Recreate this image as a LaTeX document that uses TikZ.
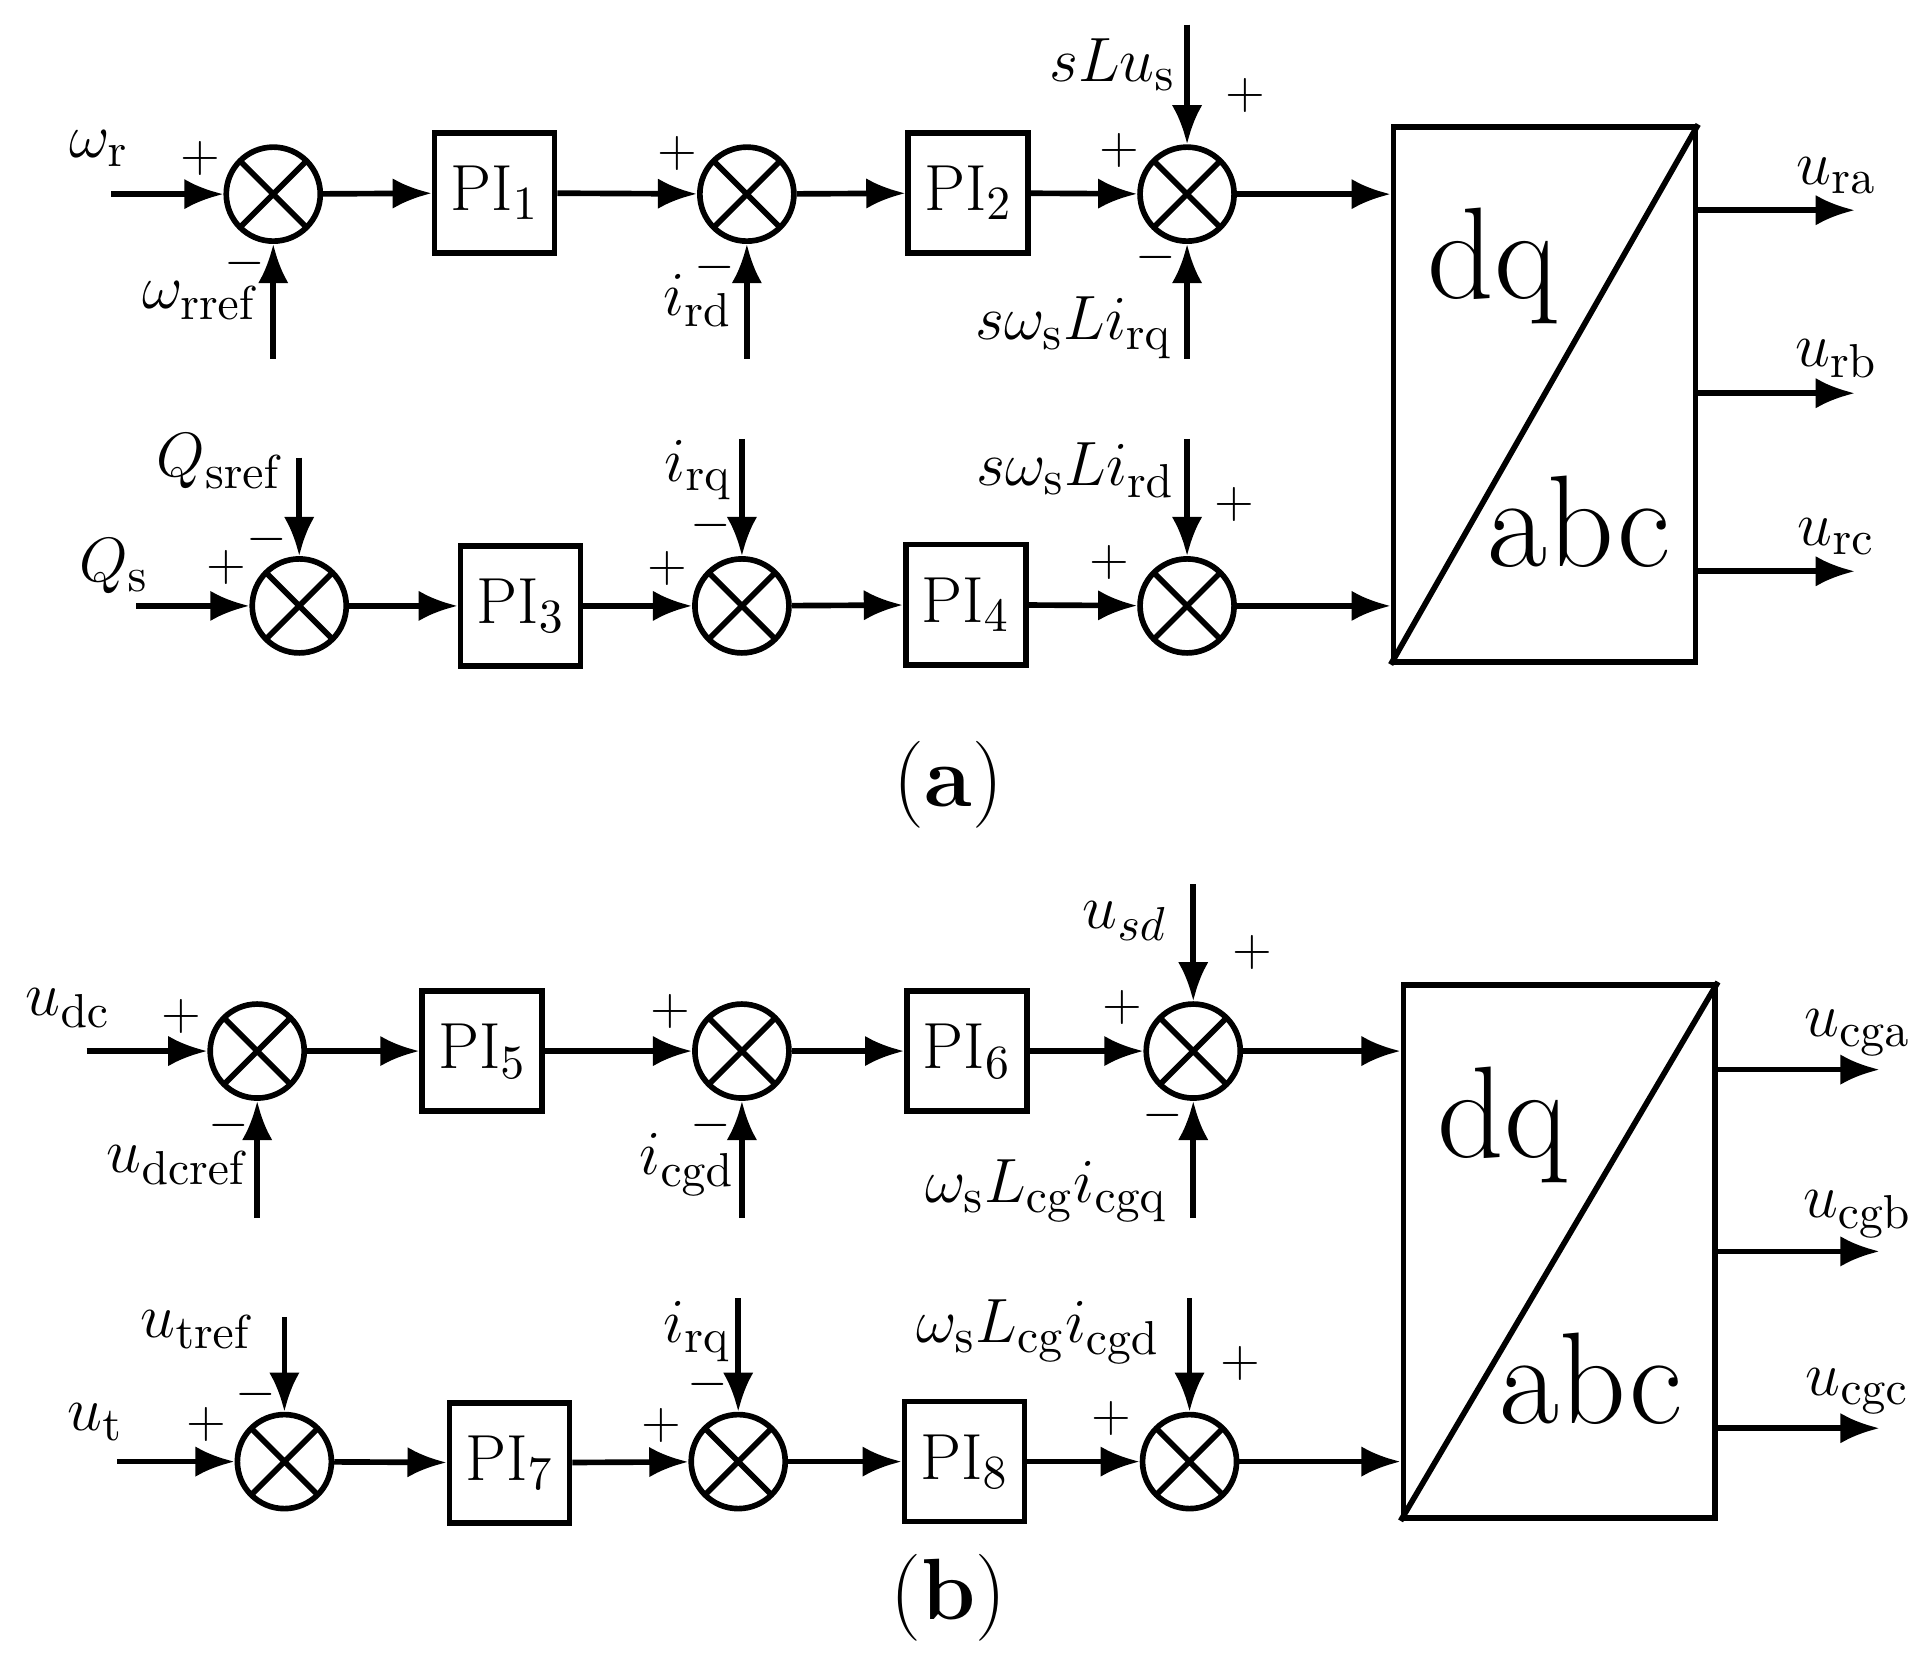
\documentclass[tikz,border=0pt]{standalone}
\usetikzlibrary{arrows.meta}
\begin{document}
\begin{tikzpicture}[x=0.01cm,y=-0.01cm,line width=1.3pt,
 >={Latex[length=9pt,width=7pt]},
 sum/.style={circle,draw,minimum size=0.76cm,inner sep=0pt,path picture={
   \draw (path picture bounding box.north west)--(path picture bounding box.south east)
         (path picture bounding box.north east)--(path picture bounding box.south west);}},
 pi/.style={draw,minimum width=0.97cm,minimum height=0.97cm,inner sep=0pt,font=\fontsize{15}{18}\selectfont},
 lbl/.style={font=\fontsize{15}{18}\selectfont,inner sep=0pt},
 rl/.style={lbl,anchor=east},
 sg/.style={font=\fontsize{13}{16}\selectfont,inner sep=0pt},
 big/.style={font=\fontsize{30}{34}\selectfont}]
\useasboundingbox (0,0) rectangle (1560,1345);
% ---------- (a) ----------
\node[sum] (s1) at (221,157) {};
\node[pi] (p1) at (400,156) {PI$_1$};
\node[sum] (s2) at (604,157) {};
\node[pi] (p2) at (783,156) {PI$_2$};
\node[sum] (s3) at (960,157) {};
\node[draw,minimum width=2.44cm,minimum height=4.32cm,inner sep=0pt] (b1) at (1249,319) {};
\draw (b1.south west)--(b1.north east);
\node[big] (dq1) at (1207,215) {dq};
\node[big] (abc1) at (1277,422) {abc};
\coordinate (i1) at (90,157); \coordinate (i1b) at (221,290);
\coordinate (i2b) at (604,290); \coordinate (i3t) at (960,20); \coordinate (i3b) at (960,290);
\draw[->] (i1)--(s1); \draw[->] (i1b)--(s1); \draw[->] (s1)--(p1); \draw[->] (p1)--(s2);
\draw[->] (i2b)--(s2); \draw[->] (s2)--(p2); \draw[->] (p2)--(s3);
\draw[->] (i3t)--(s3); \draw[->] (i3b)--(s3); \draw[->] (s3)--(b1.west|-s3);
\node[sum] (s4) at (242,490) {};
\node[pi] (p3) at (421,490) {PI$_3$};
\node[sum] (s5) at (600,490) {};
\node[pi] (p4) at (781,489) {PI$_4$};
\node[sum] (s6) at (960,490) {};
\coordinate (i4) at (110,490); \coordinate (i4t) at (242,370);
\coordinate (i5t) at (600,355); \coordinate (i6t) at (960,355);
\draw[->] (i4)--(s4); \draw[->] (i4t)--(s4); \draw[->] (s4)--(p3); \draw[->] (p3)--(s5);
\draw[->] (i5t)--(s5); \draw[->] (s5)--(p4); \draw[->] (p4)--(s6); \draw[->] (i6t)--(s6);
\draw[->] (s6)--(b1.west|-s6);
\foreach \y/\n/\t in {170/oa/ra,318/ob/rb,462/oc/rc}{
 \coordinate (\n) at (1500,\y); \draw[->] (b1.east|-\n)--(\n);
 \node[lbl] at (1485,\y-28) {$u_{\mathrm{\t}}$};}
\node[lbl] at (80,120) {$\omega_{\mathrm{r}}$};
\node[rl] at (212,243) {$\omega_{\mathrm{rref}}$};
\node[rl] at (594,243) {$i_{\mathrm{rd}}$};
\node[rl] at (953,52) {$sLu_{\mathrm{s}}$};
\node[rl] at (950,265) {$s\omega_{\mathrm{s}}Li_{\mathrm{rq}}$};
\node[rl] at (232,373) {$Q_{\mathrm{sref}}$};
\node[lbl] at (92,458) {$Q_{\mathrm{s}}$};
\node[rl] at (594,380) {$i_{\mathrm{rq}}$};
\node[rl] at (952,380) {$s\omega_{\mathrm{s}}Li_{\mathrm{rd}}$};
\foreach \p in {(162,128),(548,124),(905,122),(1007,77),(183,459),(540,460),(897,455),(998,408)} \node[sg] at \p {$+$};
\foreach \p in {(198,213),(578,216),(935,208),(216,436),(575,425)} \node[sg] at \p {$-$};
\node[font=\fontsize{20}{24}\selectfont] at (767,635) {(\textbf{a})};
% ---------- (b) ----------
\node[sum] (s7) at (208,850) {};
\node[pi] (p5) at (390,850) {PI$_5$};
\node[sum] (s8) at (600,850) {};
\node[pi] (p6) at (782,850) {PI$_6$};
\node[sum] (s9) at (965,850) {};
\node[draw,minimum width=2.52cm,minimum height=4.31cm,inner sep=0pt] (b2) at (1261,1012) {};
\draw (b2.south west)--(b2.north east);
\node[big] (dq2) at (1215,910) {dq};
\node[big] (abc2) at (1287,1115) {abc};
\coordinate (i7) at (70,850); \coordinate (i7b) at (208,985);
\coordinate (i8b) at (600,985); \coordinate (i9t) at (965,715); \coordinate (i9b) at (965,985);
\draw[->] (i7)--(s7); \draw[->] (i7b)--(s7); \draw[->] (s7)--(p5); \draw[->] (p5)--(s8);
\draw[->] (i8b)--(s8); \draw[->] (s8)--(p6); \draw[->] (p6)--(s9);
\draw[->] (i9t)--(s9); \draw[->] (i9b)--(s9); \draw[->] (s9)--(b2.west|-s9);
\node[sum] (s10) at (230,1182) {};
\node[pi] (p7) at (412,1183) {PI$_7$};
\node[sum] (s11) at (597,1182) {};
\node[pi] (p8) at (780,1182) {PI$_8$};
\node[sum] (s12) at (962,1182) {};
\coordinate (i10) at (95,1182); \coordinate (i10t) at (230,1065);
\coordinate (i11t) at (597,1050); \coordinate (i12t) at (962,1050);
\draw[->] (i10)--(s10); \draw[->] (i10t)--(s10); \draw[->] (s10)--(p7); \draw[->] (p7)--(s11);
\draw[->] (i11t)--(s11); \draw[->] (s11)--(p8); \draw[->] (p8)--(s12); \draw[->] (i12t)--(s12);
\draw[->] (s12)--(b2.west|-s12);
\foreach \y/\n/\t in {865/oa2/cga,1012/ob2/cgb,1155/oc2/cgc}{
 \coordinate (\n) at (1520,\y); \draw[->] (b2.east|-\n)--(\n);
 \node[lbl] at (1502,\y-30) {$u_{\mathrm{\t}}$};}
\node[lbl] at (55,815) {$u_{\mathrm{dc}}$};
\node[rl] at (204,942) {$u_{\mathrm{dcref}}$};
\node[rl] at (596,942) {$i_{\mathrm{cgd}}$};
\node[rl] at (946,745) {$u_{sd}$};
\node[rl] at (946,963) {$\omega_{\mathrm{s}}L_{\mathrm{cg}}i_{\mathrm{cgq}}$};
\node[rl] at (208,1075) {$u_{\mathrm{tref}}$};
\node[lbl] at (77,1150) {$u_{\mathrm{t}}$};
\node[rl] at (593,1077) {$i_{\mathrm{rq}}$};
\node[rl] at (940,1077) {$\omega_{\mathrm{s}}L_{\mathrm{cg}}i_{\mathrm{cgd}}$};
\foreach \p in {(147,822),(542,818),(908,815),(1013,770),(167,1152),(535,1153),(899,1147),(1003,1103)} \node[sg] at \p {$+$};
\foreach \p in {(185,910),(575,910),(940,902),(207,1128),(572,1120)} \node[sg] at \p {$-$};
\node[font=\fontsize{20}{24}\selectfont] at (767,1292) {(\textbf{b})};
\end{tikzpicture}
\end{document}
